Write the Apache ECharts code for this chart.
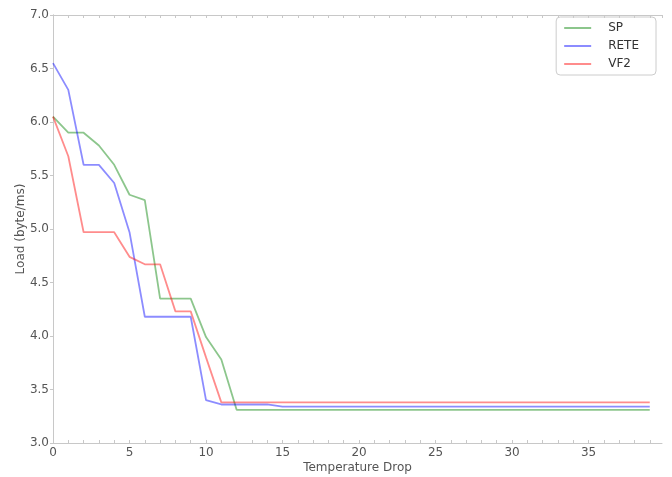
<!DOCTYPE html>
<html>
<head>
    <meta charset="UTF-8">
    <title>Load vs Temperature Drop</title>
    <script src="https://cdn.jsdelivr.net/npm/echarts@6/dist/echarts.min.js"></script>
    <style>
        html, body { margin: 0; padding: 0; background: #fff; }
        #chart { width: 672px; height: 477px; }
    </style>
</head>
<body>
<div id="chart"></div>
<script>
    // x = 0..39
    var steps = [];
    for (var i = 0; i < 40; i++) steps.push(i);

    var sp = [6.05, 5.90, 5.90, 5.78, 5.60, 5.32, 5.27, 4.35, 4.35, 4.35, 3.99, 3.78, 3.31, 3.31, 3.31, 3.31, 3.31, 3.31, 3.31, 3.31,
              3.31, 3.31, 3.31, 3.31, 3.31, 3.31, 3.31, 3.31, 3.31, 3.31, 3.31, 3.31, 3.31, 3.31, 3.31, 3.31, 3.31, 3.31, 3.31, 3.31];
    var rete = [6.55, 6.30, 5.60, 5.60, 5.43, 4.97, 4.18, 4.18, 4.18, 4.18, 3.40, 3.36, 3.36, 3.36, 3.36, 3.34, 3.34, 3.34, 3.34, 3.34,
                3.34, 3.34, 3.34, 3.34, 3.34, 3.34, 3.34, 3.34, 3.34, 3.34, 3.34, 3.34, 3.34, 3.34, 3.34, 3.34, 3.34, 3.34, 3.34, 3.34];
    var vf2 = [6.05, 5.68, 4.97, 4.97, 4.97, 4.74, 4.67, 4.67, 4.23, 4.23, 3.80, 3.38, 3.38, 3.38, 3.38, 3.38, 3.38, 3.38, 3.38, 3.38,
               3.38, 3.38, 3.38, 3.38, 3.38, 3.38, 3.38, 3.38, 3.38, 3.38, 3.38, 3.38, 3.38, 3.38, 3.38, 3.38, 3.38, 3.38, 3.38, 3.38];

    var names = ['SP', 'RETE', 'VF2'];
    var colors = ['rgba(0,128,0,0.45)', 'rgba(0,0,255,0.45)', 'rgba(255,0,0,0.45)'];

    function pairs(ys) {
        return steps.map(function (x, k) { return [x, ys[k]]; });
    }

    var axisGrey = '#c8c8c8';
    var font = 'DejaVu Sans';

    var chart = echarts.init(document.getElementById('chart'), null, {renderer: 'canvas'});
    chart.setOption({
        animation: false,
        textStyle: {fontFamily: font},
        grid: {left: 53, right: 10, top: 15, bottom: 34, outerBoundsMode: 'none'},
        legend: {
            orient: 'vertical',
            right: 16,
            top: 17,
            padding: [4, 17, 4, 8],
            itemGap: 4,
            itemWidth: 27,
            itemHeight: 2,
            icon: 'rect',
            borderColor: '#cccccc',
            borderWidth: 1,
            borderRadius: 4,
            textStyle: {fontSize: 12, color: '#333', fontFamily: font, lineHeight: 14, padding: [0, 0, 0, 12]},
            data: names
        },
        xAxis: [{
            type: 'value',
            min: 0,
            max: 39.8,
            interval: 1,
            name: 'Temperature Drop',
            nameLocation: 'middle',
            nameGap: 19,
            nameMoveOverlap: false,
            nameTextStyle: {fontSize: 12, color: '#555', fontFamily: font},
            axisLine: {lineStyle: {color: axisGrey}},
            axisTick: {inside: true, length: 3, lineStyle: {color: axisGrey}},
            axisLabel: {
                fontSize: 12, color: '#555', margin: 4, showMaxLabel: false,
                formatter: function (v) { return (v % 5 === 0) ? String(v) : ''; }
            },
            splitLine: {show: false}
        }, {
            type: 'value',
            position: 'top',
            min: 0,
            max: 39.8,
            interval: 1,
            axisLine: {lineStyle: {color: axisGrey}},
            axisTick: {inside: true, length: 3, lineStyle: {color: axisGrey}},
            axisLabel: {show: false},
            splitLine: {show: false}
        }],
        yAxis: [{
            type: 'value',
            min: 3.0,
            max: 7.0,
            interval: 0.5,
            name: 'Load (byte/ms)',
            nameLocation: 'middle',
            nameGap: 26,
            nameMoveOverlap: false,
            nameTextStyle: {fontSize: 12, color: '#555', fontFamily: font},
            axisLine: {show: true, lineStyle: {color: axisGrey}},
            axisTick: {show: true, length: 2, lineStyle: {color: axisGrey}},
            axisLabel: {fontSize: 12, color: '#555', margin: 4, formatter: function (v) { return v.toFixed(1); }},
            splitLine: {show: false}
        }, {
            type: 'value',
            position: 'right',
            min: 3.0,
            max: 7.0,
            interval: 0.5,
            axisLine: {show: true, lineStyle: {color: axisGrey}},
            axisTick: {show: true, inside: true, length: 3, lineStyle: {color: axisGrey}},
            axisLabel: {show: false},
            splitLine: {show: false}
        }],
        series: [sp, rete, vf2].map(function (ys, k) {
            return {
                name: names[k],
                type: 'line',
                data: pairs(ys),
                showSymbol: false,
                symbol: 'none',
                color: colors[k],
                lineStyle: {width: 1.8, color: colors[k]}
            };
        })
    });
</script>
</body>
</html>
